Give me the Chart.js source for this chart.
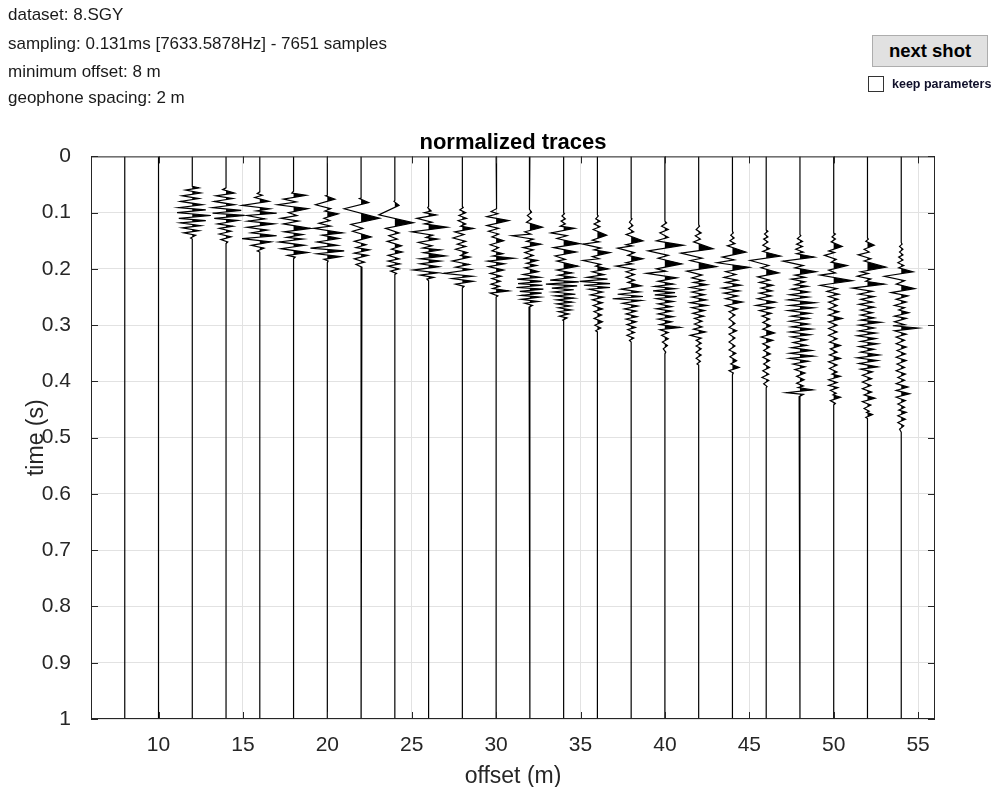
<!DOCTYPE html>
<html>
<head>
<meta charset="utf-8">
<title>normalized traces</title>
<script src="https://cdn.jsdelivr.net/npm/chart.js@4.4.1/dist/chart.umd.min.js"></script>
<style>
    body { margin: 0; background: #fff; font-family: "Liberation Sans", Arial, sans-serif; }
    #wrap { position: relative; width: 993px; height: 787px; overflow: hidden; }
    canvas { position: absolute; left: 0; top: 0; }
    .info { position: absolute; left: 8px; font-size: 17px; color: #1a1a1a; white-space: nowrap; line-height: 20px; }
    #nextShot {
        position: absolute; left: 872px; top: 35px; width: 116px; height: 32px;
        box-sizing: border-box; background: #e1e1e1; border: 1px solid #adadad;
        font: bold 18.5px "Liberation Sans", Arial, sans-serif; color: #000;
        display: flex; align-items: center; justify-content: center;
    }
    #keep { position: absolute; left: 868px; top: 76px; width: 16px; height: 16px; box-sizing: border-box;
        border: 1px solid #333; background: #fff; }
    #keepLabel { position: absolute; left: 892px; top: 76px; font: bold 12.5px "Liberation Sans", Arial, sans-serif;
        color: #10102a; line-height: 16px; white-space: nowrap; }
</style>
</head>
<body>
<div id="wrap">
    <canvas id="traceChart" width="993" height="787"></canvas>
    <div class="info" style="top:5px">dataset: 8.SGY</div>
    <div class="info" style="top:34px">sampling: 0.131ms [7633.5878Hz] - 7651 samples</div>
    <div class="info" style="top:62px">minimum offset: 8 m</div>
    <div class="info" style="top:88px">geophone spacing: 2 m</div>
    <div id="nextShot">next shot</div>
    <div id="keep"></div>
    <div id="keepLabel">keep parameters</div>
</div>
<script>
// geophone offsets (m)
const offsets = [8, 10, 12, 14, 16, 18, 20, 22, 24, 26, 28, 30, 32, 34, 36, 38, 40, 42, 44, 46, 48, 50, 52, 54];
const offsetTicks = [10, 15, 20, 25, 30, 35, 40, 45, 50, 55];
const timeTicks = [0, 0.1, 0.2, 0.3, 0.4, 0.5, 0.6, 0.7, 0.8, 0.9, 1];
const timeLabels = ['0', '0.1', '0.2', '0.3', '0.4', '0.5', '0.6', '0.7', '0.8', '0.9', '1'];
const recordStart = 0;   // s
const recordEnd = 1;     // s

// wiggle peaks: [time (ms), deflection (m)]
const tr08 = [];
const tr10 = [];
const tr12 = [[53,0],[56,.4],[60,-.4],[65,.5],[70,-.6],[75,.4],[80,-.7],[86,.6],[91,-.8],[95,.8],[100,-.9],[105,1.1],[110,-.8],[114,.8],[118,-.7],[123,.5],[127,-.6],[132,.4],[136,-.5],[140,.2],[145,-.1],[147,0]];
const tr14 = [[56,0],[59,-.2],[65,.5],[70,-.6],[75,.4],[80,-.7],[86,.5],[91,-.8],[96,.9],[101,-.8],[105,1.1],[110,-.7],[114,.7],[120,-.5],[124,.4],[128,-.4],[133,.3],[138,-.4],[143,.3],[148,-.3],[152,.1],[155,0]];
const tr16 = [[63,0],[66,-.15],[69,.15],[73,-.3],[80,.55],[87,-1.05],[93,.6],[97,-.2],[101,1],[105,-.75],[111,.3],[115,-.7],[120,.85],[126,-.75],[131,.45],[136,-.5],[141,1],[146,-1.05],[152,.65],[158,-.5],[163,.25],[168,-.15],[170,0]];
const tr18 = [[62,0],[65,-.1],[69,.75],[76,-.6],[81,.15],[86,-.95],[93,.85],[100,-.3],[105,.2],[110,-.75],[115,.3],[120,-.6],[128,1],[134,-.55],[139,.55],[144,-.4],[147,.55],[152,-.85],[158,.65],[164,-.75],[171,.85],[176,-.35],[179,.1],[182,0]];
const tr20 = [[69,0],[70,-.1],[76,.45],[86,-.7],[93,.2],[97,-.15],[102,.65],[110,-.2],[114,.15],[119,-.5],[124,.2],[128,-.8],[136,.9],[140,-.3],[146,.7],[152,-.6],[158,.6],[163,-1],[168,1],[173,-.6],[178,.8],[183,-.2],[186,.05],[189,0]];
const tr22 = [[74,0],[75,-.1],[82,.45],[93,-1],[110,1.1],[121,-.6],[128,.1],[133,-.5],[143,.6],[151,-.4],[157,.3],[162,-.3],[166,.5],[172,-.4],[176,.4],[182,-.4],[188,.2],[192,-.3],[197,.05],[200,0]];
const tr24 = [[78,0],[80,-.05],[87,.25],[104,-.95],[118,1.1],[128,-.55],[136,.25],[141,-.35],[147,.15],[151,-.45],[159,.4],[165,-.2],[170,.45],[176,-.4],[182,.25],[186,-.4],[191,.3],[195,-.4],[200,.25],[204,-.25],[208,.1],[210,0]];
const tr26 = [[89,0],[91,-.05],[97,.15],[100,-.25],[104,.45],[110,-.7],[117,.2],[120,-.25],[126,1.1],[134,-1],[140,.25],[144,-.15],[147,.55],[153,-.6],[159,.2],[163,-.35],[166,.7],[171,-.3],[177,1],[182,-.5],[186,.7],[191,-.5],[196,.6],[202,-.9],[207,.55],[211,-.5],[215,.3],[218,-.1],[221,0]];
const tr28 = [[89,0],[91,.05],[95,-.15],[100,.2],[105,-.2],[110,.25],[114,-.25],[120,.2],[124,-.1],[128,.65],[134,-.45],[139,.1],[145,-.55],[151,.2],[156,-.3],[160,.2],[165,-.4],[171,.3],[176,-.1],[179,.45],[186,-.6],[192,.4],[197,-.4],[201,.5],[208,-1.1],[213,.6],[217,-.6],[222,.65],[227,-.4],[231,.1],[234,0]];
const tr30 = [[92,0],[93,.05],[98,-.3],[102,.1],[107,-.55],[114,.75],[123,-.55],[128,.15],[133,-.45],[138,.15],[143,-.25],[150,.45],[157,-.35],[162,.15],[168,-.25],[173,.4],[177,-.2],[181,1.05],[186,-.5],[191,.5],[196,-.45],[202,.45],[208,-.35],[213,.3],[217,-.25],[222,.25],[227,-.3],[231,.2],[235,-.2],[239,.75],[243,-.35],[248,.1],[250,0]];
const tr32 = [[93,0],[94,-.05],[99,.1],[105,-.15],[111,.1],[117,-.2],[126,.75],[134,-.3],[138,.05],[141,-1.05],[147,.2],[151,-.2],[156,.65],[162,-.4],[166,.2],[171,-.3],[176,.2],[181,-.3],[185,.45],[190,-.2],[194,.4],[198,-.3],[205,.5],[210,-.4],[215,.6],[218,-.75],[222,.7],[226,-.7],[229,.75],[233,-.8],[236,.8],[240,-.6],[243,.7],[247,-.5],[250,.6],[254,-.5],[258,.5],[261,-.3],[265,.15],[268,-.05],[269,0]];
const tr34 = [[100,0],[102,.05],[106,-.1],[111,.1],[115,-.15],[120,.1],[124,-.2],[128,.65],[136,-.75],[141,.2],[146,-.4],[155,.95],[162,-.6],[170,.75],[177,-.5],[183,.1],[186,-.4],[195,.85],[202,-.4],[207,.5],[211,-.3],[215,.6],[220,-.8],[223,.9],[227,-1.05],[230,.8],[234,-.7],[237,.6],[241,-.6],[245,.7],[248,-.5],[252,.6],[255,-.4],[259,.5],[262,-.4],[266,.4],[269,-.3],[273,.45],[276,-.3],[280,.3],[284,-.25],[287,.2],[291,-.05],[292,0]];
const tr36 = [[104,0],[106,.05],[111,-.1],[115,.15],[120,-.2],[125,.15],[130,-.25],[140,.55],[149,-.3],[152,.1],[156,-.85],[163,.2],[166,-.2],[171,.75],[178,-.3],[182,.1],[185,-.85],[192,.2],[195,-.1],[200,.65],[205,-.3],[210,.4],[215,-.6],[218,.6],[222,-1.05],[226,.75],[229,-.8],[233,.75],[236,-.5],[241,.3],[246,-.4],[250,.35],[255,-.3],[260,.3],[265,-.25],[271,.3],[276,-.2],[282,.25],[288,-.2],[294,.3],[300,-.15],[305,.2],[310,-.1],[312,0]];
const tr38 = [[110,0],[111,.05],[117,-.1],[123,.1],[128,-.15],[134,.15],[139,-.3],[150,.7],[157,-.3],[159,.05],[163,-.8],[171,.2],[176,-.2],[182,.7],[189,-.3],[191,.05],[195,-.9],[201,.2],[205,-.3],[210,.2],[215,-.3],[220,.2],[224,-.2],[230,.6],[236,-.6],[241,.5],[245,-.8],[249,.7],[253,-1.1],[256,.6],[261,-.5],[266,.4],[271,-.4],[275,.3],[280,-.3],[285,.35],[289,-.3],[294,.3],[299,-.25],[304,.25],[308,-.2],[313,.2],[318,-.25],[323,.15],[327,-.1],[330,0]];
const tr40 = [[115,0],[118,.1],[124,-.2],[130,.2],[136,-.3],[144,.2],[150,-.5],[158,1.1],[168,-1],[176,.2],[181,-.4],[191,1],[200,-.5],[204,.05],[208,-1.1],[216,.7],[222,-.4],[227,.5],[231,-.6],[235,.6],[239,-.7],[242,.6],[246,-.6],[249,.7],[253,-.5],[258,.5],[262,-.4],[267,.4],[271,-.5],[275,.4],[280,-.4],[285,.5],[289,-.4],[294,.4],[299,-.3],[304,.9],[308,-.3],[313,.2],[318,-.2],[324,.2],[330,-.15],[336,.15],[342,-.1],[348,.05],[351,0]];
const tr42 = [[121,0],[124,.05],[130,-.15],[136,.15],[141,-.2],[147,.1],[152,-.3],[164,.85],[172,-1.05],[181,.2],[185,-.5],[196,1.05],[204,-.7],[211,.2],[216,-.4],[221,.3],[224,-.3],[228,.5],[233,-.5],[237,.3],[241,-.4],[246,.35],[250,-.4],[255,.45],[260,-.5],[265,.5],[269,-.4],[274,.35],[279,-.35],[284,.3],[288,-.25],[293,.2],[298,-.25],[303,.2],[307,-.3],[312,.4],[318,-.5],[323,.15],[327,-.15],[332,.15],[337,-.15],[342,.15],[348,-.15],[353,.15],[359,-.15],[364,.1],[369,-.1],[371,0]];
const tr44 = [[133,0],[136,.05],[140,-.1],[145,.1],[150,-.15],[155,.15],[159,-.3],[170,.8],[179,-.6],[184,.1],[189,-.9],[197,1],[205,-.4],[210,.2],[215,-.5],[220,.3],[224,-.4],[229,.5],[234,-.6],[239,.4],[243,-.5],[248,.3],[253,-.4],[259,.6],[265,-.4],[271,.3],[276,-.2],[282,.15],[289,-.2],[297,.15],[304,-.2],[310,.25],[316,-.2],[323,.15],[330,-.2],[337,.15],[344,-.2],[350,.2],[356,-.15],[363,.25],[369,-.1],[375,.4],[381,-.2],[385,.05],[388,0]];
const tr46 = [[131,0],[133,.1],[138,-.1],[143,.1],[147,-.15],[152,.1],[158,-.2],[164,.2],[169,-.2],[177,.85],[185,-.95],[194,.15],[198,-.3],[207,.75],[214,-.5],[220,.2],[224,-.4],[229,.4],[234,-.3],[239,.35],[243,-.4],[248,.3],[253,-.5],[259,.55],[265,-.6],[269,.4],[274,-.4],[279,.3],[284,-.25],[289,.2],[295,-.2],[301,.25],[307,-.2],[314,.5],[321,-.3],[327,.4],[333,-.2],[339,.2],[345,-.15],[351,.25],[357,-.2],[363,.2],[369,-.15],[375,.2],[381,-.2],[387,.15],[393,-.25],[398,.15],[404,-.15],[409,.05],[411,0]];
const tr48 = [[139,0],[141,.05],[146,-.15],[151,.15],[156,-.2],[160,.15],[165,-.25],[170,.2],[173,-.2],[179,.85],[186,-1],[194,.2],[198,-.3],[205,.95],[211,-.3],[215,.3],[218,-.5],[223,.3],[228,-.3],[231,.45],[236,-.5],[241,.5],[246,-.6],[250,.5],[255,-.7],[260,.9],[265,-.6],[269,.8],[274,-.7],[279,.6],[284,-.5],[288,.5],[293,-.6],[298,.5],[303,-.5],[307,.7],[312,-.6],[317,.6],[321,-.5],[326,.4],[331,-.4],[336,.4],[340,-.5],[345,.7],[350,-.6],[355,.8],[359,-.6],[364,.5],[369,-.4],[374,.3],[379,-.3],[385,.3],[391,-.2],[397,.25],[403,-.2],[408,.2],[411,-.1],[415,.75],[420,-.8],[423,.2],[427,-.05],[429,0]];
const tr50 = [[136,0],[138,.1],[143,-.1],[147,.1],[152,-.15],[160,.5],[168,-.3],[171,.05],[176,-.55],[183,.15],[188,-.15],[194,.8],[202,-.3],[207,.1],[211,-.8],[221,1.1],[229,-.8],[235,.2],[240,-.4],[245,.3],[249,-.3],[254,.25],[259,-.3],[265,.2],[271,-.3],[276,.3],[282,-.3],[288,.5],[294,-.3],[300,.2],[306,-.3],[312,.2],[318,-.3],[324,.2],[330,-.25],[336,.4],[342,-.2],[348,.2],[353,-.25],[359,.4],[365,-.3],[371,.2],[377,-.25],[383,.2],[387,-.1],[391,.4],[397,-.3],[402,.2],[407,-.3],[411,.25],[416,-.2],[421,.15],[424,-.05],[428,.4],[434,-.2],[439,.1],[442,0]];
const tr52 = [[145,0],[147,.05],[151,-.1],[158,.4],[165,-.2],[170,.1],[175,-.55],[182,.2],[186,-.2],[197,1.1],[205,-.4],[208,.05],[213,-.6],[218,.2],[222,-.1],[227,1],[234,-.9],[240,.3],[245,-.5],[249,.4],[254,-.4],[259,.3],[263,-.5],[268,.4],[273,-.4],[278,.3],[282,-.4],[287,.4],[291,-.4],[295,.8],[300,-.5],[305,.4],[310,-.5],[314,.5],[319,-.6],[324,.5],[329,-.4],[333,.6],[338,-.5],[343,.4],[348,-.4],[353,.7],[358,-.6],[363,.6],[368,-.5],[374,.6],[378,-.4],[383,.3],[389,-.3],[395,.25],[401,-.3],[407,.2],[413,-.3],[419,.25],[424,-.2],[430,.45],[436,-.3],[442,.2],[448,-.2],[453,.1],[455,-.05],[459,.3],[464,-.1],[466,0]];
const tr54 = [[153,0],[156,.05],[160,-.1],[165,.1],[170,-.1],[175,.1],[179,-.15],[184,.1],[189,-.2],[194,.15],[198,-.15],[205,.7],[213,-1],[221,.2],[227,-.3],[235,.8],[242,-.6],[248,.4],[254,-.3],[259,.3],[265,-.4],[269,.2],[273,-.15],[278,.45],[284,-.4],[288,.3],[294,-.4],[299,.2],[301,-.5],[305,1],[310,-.4],[316,.3],[321,-.3],[327,.2],[333,-.3],[339,.3],[345,-.25],[351,.25],[357,-.3],[363,.3],[369,-.25],[375,.2],[381,-.3],[387,.25],[393,-.2],[398,.2],[404,-.3],[410,.4],[416,-.3],[422,.5],[428,-.3],[434,.25],[440,-.2],[446,.2],[451,-.15],[455,.3],[461,-.2],[467,.25],[473,-.2],[479,.15],[485,-.1],[490,0]];

const wiggles = [tr08, tr10, tr12, tr14, tr16, tr18, tr20, tr22, tr24, tr26, tr28, tr30,
                 tr32, tr34, tr36, tr38, tr40, tr42, tr44, tr46, tr48, tr50, tr52, tr54];

function tracePoints(offset, wiggle) {
    const pts = [{x: offset, y: recordStart}];
    wiggle.forEach(([ms, a]) => pts.push({x: offset + a, y: ms / 1000}));
    pts.push({x: offset, y: recordEnd});
    return pts;
}

// the same polyline cut at its baseline, keeping only the right-hand lobes
function positiveLobes(offset, pts) {
    const out = [];
    pts.forEach((p, i) => {
        const a = p.x - offset;
        if (i > 0) {
            const q = pts[i - 1];
            const b = q.x - offset;
            if ((a > 0 && b < 0) || (a < 0 && b > 0)) {
                out.push({x: offset, y: q.y + (p.y - q.y) * b / (b - a)});
            }
        }
        out.push({x: offset + Math.max(a, 0), y: p.y});
    });
    return out;
}

const datasets = [];
offsets.forEach((off, i) => {
    const pts = tracePoints(off, wiggles[i]);
    datasets.push({
        data: pts,
        borderColor: '#000',
        borderWidth: 1.2,
        pointRadius: 0,
        fill: false
    });
    datasets.push({
        data: positiveLobes(off, pts),
        borderWidth: 0,
        borderColor: 'rgba(0,0,0,0)',
        backgroundColor: '#000',
        pointRadius: 0,
        fill: {value: off}
    });
});

// MATLAB style box with inward ticks
const axesBox = {
    id: 'axesBox',
    afterDatasetsDraw(chart) {
        const {ctx, chartArea: a, scales: {x, y}} = chart;
        ctx.save();
        ctx.strokeStyle = '#262626';
        ctx.lineWidth = 1;
        ctx.strokeRect(a.left + 0.5, a.top + 0.5, a.right - a.left - 1, a.bottom - a.top - 1);
        ctx.beginPath();
        offsetTicks.forEach(v => {
            const px = Math.round(x.getPixelForValue(v)) + 0.5;
            ctx.moveTo(px, a.bottom); ctx.lineTo(px, a.bottom - 7);
            ctx.moveTo(px, a.top); ctx.lineTo(px, a.top + 7);
        });
        timeTicks.forEach(v => {
            const py = Math.round(y.getPixelForValue(v)) + 0.5;
            ctx.moveTo(a.left, py); ctx.lineTo(a.left + 7, py);
            ctx.moveTo(a.right, py); ctx.lineTo(a.right - 7, py);
        });
        ctx.stroke();
        ctx.restore();
    }
};

const tickFont = {family: '"Liberation Sans", Arial, sans-serif', size: 21};
const labelFont = {family: '"Liberation Sans", Arial, sans-serif', size: 23};

new Chart(document.getElementById('traceChart'), {
    type: 'line',
    data: {datasets},
    plugins: [axesBox],
    options: {
        responsive: false,
        animation: false,
        indexAxis: 'y',
        layout: {padding: {top: 130, right: 58, bottom: 0, left: 0}},
        plugins: {
            legend: {display: false},
            tooltip: {enabled: false},
            title: {
                display: true,
                text: 'normalized traces',
                fullSize: false,
                color: '#000',
                font: {family: '"Liberation Sans", Arial, sans-serif', size: 22, weight: 'bold'},
                padding: {top: 0, bottom: 0}
            }
        },
        scales: {
            x: {
                type: 'linear',
                min: 6,
                max: 56,
                afterBuildTicks: s => { s.ticks = offsetTicks.map(v => ({value: v})); },
                afterFit: s => { s.height = 68; },
                grid: {color: '#e2e2e2', drawTicks: false},
                border: {display: false},
                ticks: {color: '#262626', font: tickFont, padding: 14, maxRotation: 0,
                        callback: v => String(v)},
                title: {display: true, text: 'offset (m)', color: '#262626', font: labelFont,
                        padding: {top: 0, bottom: -3}}
            },
            y: {
                type: 'linear',
                reverse: true,
                min: 0,
                max: 1,
                afterBuildTicks: s => { s.ticks = timeTicks.map(v => ({value: v})); },
                afterFit: s => { s.width = 91; },
                grid: {color: '#e2e2e2', drawTicks: false},
                border: {display: false},
                ticks: {color: '#262626', font: tickFont, padding: 20,
                        callback: (v, i) => timeLabels[i]},
                title: {display: true, text: 'time (s)', color: '#262626', font: labelFont,
                        padding: {top: 23, bottom: 0}}
            }
        }
    }
});
</script>
</body>
</html>
